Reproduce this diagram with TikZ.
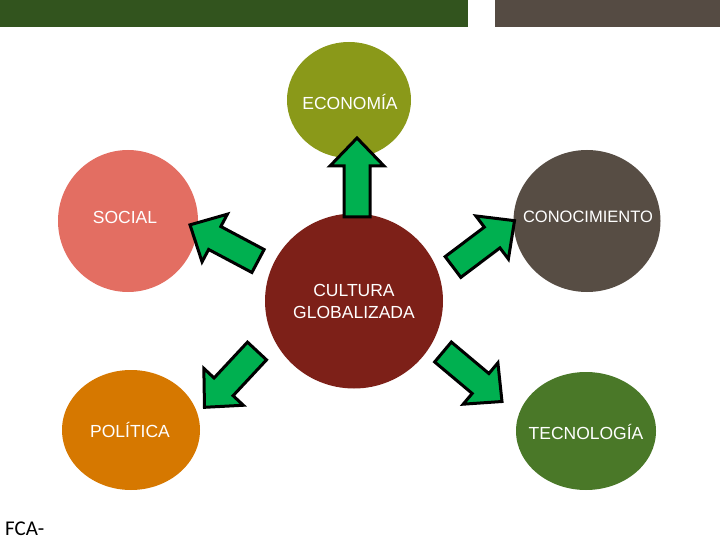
\documentclass[tikz,border=0pt]{standalone}
\usepackage{fontspec}
\usetikzlibrary{shapes.geometric}
\setmainfont{Liberation Sans}
\newfontfamily\carl{Carlito}
\definecolor{barGreen}{RGB}{50,84,30}
\definecolor{barGray}{RGB}{85,75,67}
\definecolor{cEco}{RGB}{138,153,25}
\definecolor{cSoc}{RGB}{227,110,98}
\definecolor{cCon}{RGB}{87,77,68}
\definecolor{cCul}{RGB}{125,32,24}
\definecolor{cPol}{RGB}{214,120,0}
\definecolor{cTec}{RGB}{74,120,40}
\definecolor{arrGreen}{RGB}{0,176,80}
\tikzset{
  bubble/.style={ellipse, inner sep=0pt, draw=none},
  lbl/.style={text=white, font=\fontsize{17.5}{22}\selectfont, align=center, inner sep=0pt},
  blockarrow/.style={fill=arrGreen, draw=black, line width=3pt, line join=miter}
}
\newcommand{\blockarr}[4]{%
  \begin{scope}[shift={(#1,#2)}, rotate=#3]
    \path[blockarrow] (0,-13) -- ({#4-28},-13) -- ({#4-28},-27) -- (#4,0) -- ({#4-28},27) -- ({#4-28},13) -- (0,13) -- cycle;
  \end{scope}}
\begin{document}
\begin{tikzpicture}[x=1pt,y=-1pt]
\useasboundingbox (0,0) rectangle (720,540);
\fill[barGreen] (0,0) rectangle (468,27);
\fill[barGray] (495,0) rectangle (720,27);
% circles
\node[bubble, fill=cEco, minimum width=124pt, minimum height=116pt] (eco) at (349,100) {};
\node[bubble, fill=cSoc, minimum width=140pt, minimum height=142pt] (soc) at (128,221) {};
\node[bubble, fill=cCon, minimum width=147pt, minimum height=142pt] (con) at (587,221) {};
\node[bubble, fill=cCul, minimum width=178pt, minimum height=175pt] (cul) at (354,301) {};
\node[bubble, fill=cPol, minimum width=138pt, minimum height=120pt] (pol) at (131,430) {};
\node[bubble, fill=cTec, minimum width=140pt, minimum height=118pt] (tec) at (586,431) {};
% labels
\node[lbl] (teco) at (350,102) {ECONOMÍA};
\node[lbl] (tsoc) at (125,217) {SOCIAL};
\node[lbl, font=\fontsize{16.5}{22}\selectfont] (tcon) at (588,217) {CONOCIMIENTO};
\node[lbl] (tcul) at (354,301) {CULTURA\\GLOBALIZADA};
\node[lbl] (tpol) at (130,430) {POLÍTICA};
\node[lbl] (ttec) at (586,432) {TECNOLOGÍA};
% arrows
\blockarr{357}{217}{90}{79}
\blockarr{258}{261}{152}{77}
\blockarr{453}{267}{37}{77}
\blockarr{257}{351}{227}{77}
\blockarr{443}{352}{-40}{77}
\node[anchor=base west, inner sep=0pt, font=\carl\fontsize{21}{24}\selectfont] (fca) at (5,535) {FCA-};
\end{tikzpicture}
\end{document}
